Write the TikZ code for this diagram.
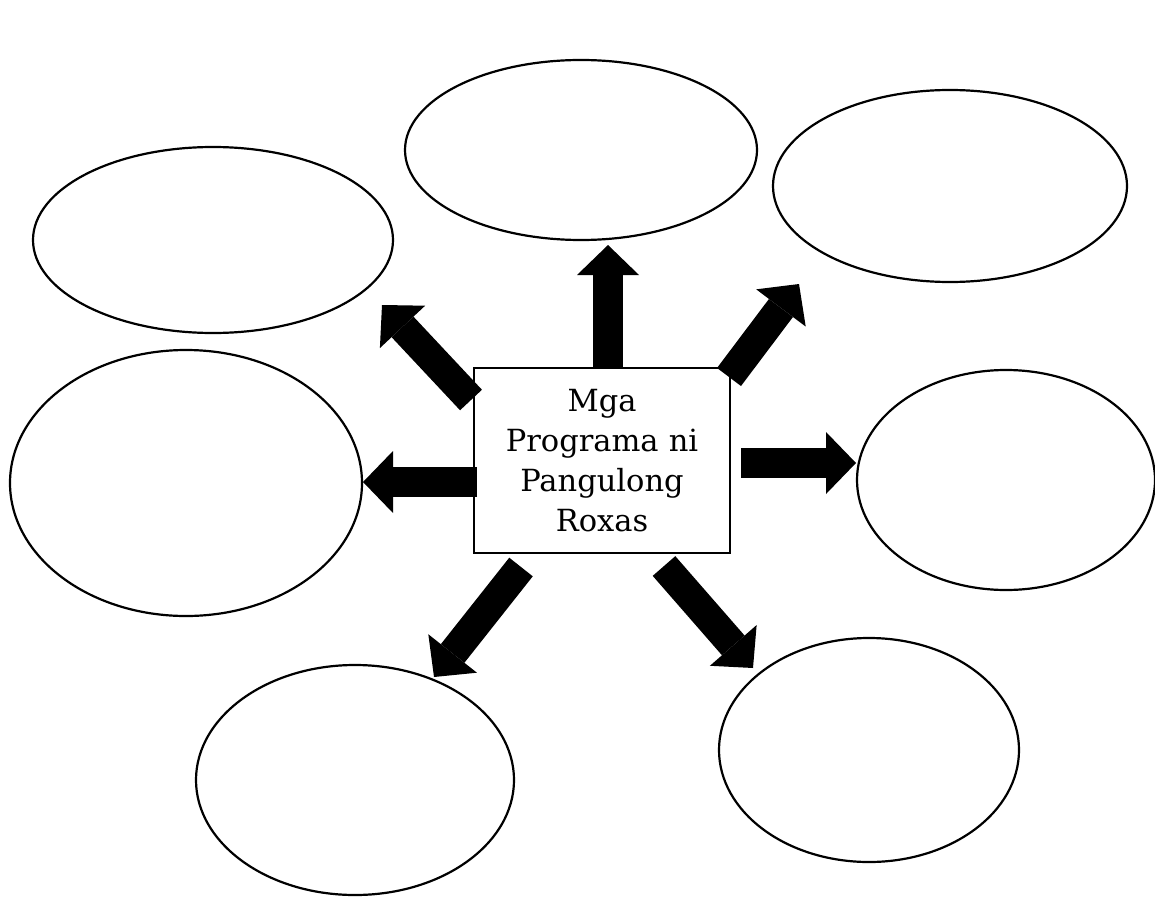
\documentclass[tikz,border=0pt]{standalone}
\usepackage{fontspec}
\setmainfont{DejaVu Serif}
\usetikzlibrary{shapes.geometric,arrows.meta}

\tikzset{
    bubble/.style={draw, ellipse, line width=2.2pt, inner sep=0pt},
    bigarrow/.style={line width=30pt, -{Triangle[length=30pt, width=62pt, line width=0pt]}},
}

\begin{document}
\begin{tikzpicture}[x=1pt, y=-1pt]
    % Canvas
    \useasboundingbox (0,0) rectangle (1155,896);

    % Centre box
    \node[draw, line width=1.6pt, minimum width=256pt, minimum height=185pt,
          inner sep=2pt, text width=250pt, align=center,
          font=\fontsize{30.5}{40}\selectfont] (box) at (602,460.5)
        {Mga\\Programa ni\\Pangulong\\Roxas};

    % Empty bubbles
    \node[bubble, minimum width=352pt, minimum height=180pt] (top)      at (581,150) {};
    \node[bubble, minimum width=354pt, minimum height=192pt] (topright) at (950,186) {};
    \node[bubble, minimum width=360pt, minimum height=186pt] (topleft)  at (213,240) {};
    \node[bubble, minimum width=352pt, minimum height=266pt] (left)     at (186,483) {};
    \node[bubble, minimum width=298pt, minimum height=220pt] (right)    at (1006,480) {};
    \node[bubble, minimum width=318pt, minimum height=230pt] (botleft)  at (355,780) {};
    \node[bubble, minimum width=300pt, minimum height=224pt] (botright) at (869,750) {};

    % Arrow ends
    \coordinate (tailn)  at (608,368);  \coordinate (tipn)  at (608,245);
    \coordinate (tailne) at (729,377);  \coordinate (tipne) at (799,284);
    \coordinate (taile)  at (741,463);  \coordinate (tipe)  at (856,463);
    \coordinate (tailse) at (664,566);  \coordinate (tipse) at (753,668);
    \coordinate (tailsw) at (521,567);  \coordinate (tipsw) at (434,677);
    \coordinate (tailw)  at (477,482);  \coordinate (tipw)  at (363,482);
    \coordinate (tailnw) at (471,400);  \coordinate (tipnw) at (382,305);

    % Block arrows out of the box
    \foreach \d in {n,ne,e,se,sw,w,nw} {
        \draw[bigarrow] (tail\d) -- (tip\d);
    }
\end{tikzpicture}
\end{document}
